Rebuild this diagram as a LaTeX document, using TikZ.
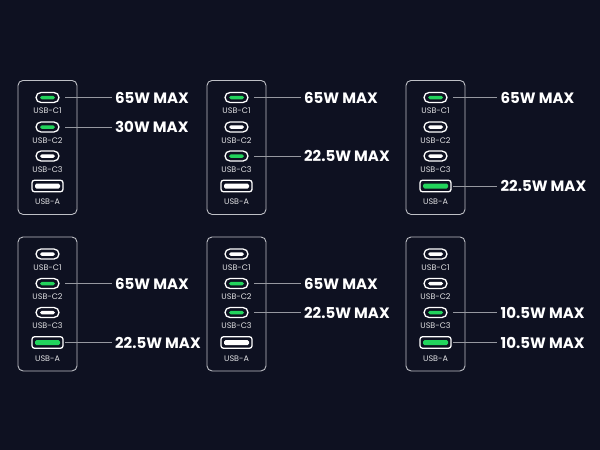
\documentclass[tikz,border=0pt]{standalone}
\usepackage{fontspec}
\setmainfont{Poppins}
\usetikzlibrary{positioning,calc}
\definecolor{night}{RGB}{14,17,33}
\definecolor{usbgreen}{RGB}{34,212,92}
\definecolor{framegray}{RGB}{190,192,198}
\definecolor{leadgray}{RGB}{150,152,160}
\tikzset{
  charger/.style={draw=framegray,line width=0.9pt,rounded corners=5pt,
    minimum width=59pt,minimum height=134pt,inner sep=0pt},
  cport/.style={draw=white,line width=1.3pt,rounded corners=5pt,
    minimum width=23pt,minimum height=10pt,inner sep=0pt},
  cslot/.style={rounded corners=1.75pt,minimum width=15pt,minimum height=3.5pt,inner sep=0pt},
  aport/.style={draw=white,line width=1.3pt,rounded corners=2.5pt,
    minimum width=31pt,minimum height=11.5pt,inner sep=0pt},
  aslot/.style={rounded corners=1.5pt,minimum width=25pt,minimum height=5pt,inner sep=0pt},
  lit/.style={fill=usbgreen},
  unlit/.style={fill=white},
  portname/.style={font=\fontsize{8}{9}\selectfont,text=white!88!night,inner sep=0pt},
  watt/.style={font=\fontsize{15}{18}\selectfont\bfseries,text=white,inner sep=0pt,anchor=west},
  lead/.style={leadgray,line width=0.9pt}
}
\begin{document}
\begin{tikzpicture}[x=1pt,y=-1pt]
  \fill[night] (0,0) rectangle (600,450);
  \useasboundingbox (0,0) rectangle (600,450);
  % six chargers, which ports are lit
  \foreach \cx/\cy/\n/\pa/\pb/\pc/\pd in {
      47.5/80/a/lit/lit/unlit/unlit,
      236.5/80/b/lit/unlit/lit/unlit,
      435.5/80/c/lit/unlit/unlit/lit,
      47.5/236.5/d/unlit/lit/unlit/lit,
      236.5/236.5/e/unlit/lit/lit/unlit,
      435.5/236.5/f/unlit/unlit/lit/lit} {
    \node[charger,anchor=north] (\n box) at (\cx,\cy) {};
    \node[cport] (\n1) at (\cx,\cy+17.5) {};
    \node[cslot,\pa] (\n1s) at (\n1) {};
    \node[portname,below=4.5pt of \n1] (\n1l) {USB-C1};
    \node[cport] (\n2) at (\cx,\cy+47) {};
    \node[cslot,\pb] (\n2s) at (\n2) {};
    \node[portname,below=4.5pt of \n2] (\n2l) {USB-C2};
    \node[cport] (\n3) at (\cx,\cy+76) {};
    \node[cslot,\pc] (\n3s) at (\n3) {};
    \node[portname,below=4.5pt of \n3] (\n3l) {USB-C3};
    \node[aport] (\n4) at (\cx,\cy+106) {};
    \node[aslot,\pd] (\n4s) at (\n4) {};
    \node[portname,below=6.5pt of \n4] (\n4l) {USB-A};
  }
  % power labels
  \node[watt] (a1w) at ($(a1 -| abox.east)+(37.5,0)$) {65W MAX};
  \node[watt] (a2w) at ($(a2 -| abox.east)+(37.5,0)$) {30W MAX};
  \node[watt] (b1w) at ($(b1 -| bbox.east)+(37.5,0)$) {65W MAX};
  \node[watt] (b3w) at ($(b3 -| bbox.east)+(37.5,0)$) {22.5W MAX};
  \node[watt] (c1w) at ($(c1 -| cbox.east)+(35,0)$) {65W MAX};
  \node[watt] (c4w) at ($(c4 -| cbox.east)+(35,0)$) {22.5W MAX};
  \node[watt] (d2w) at ($(d2 -| dbox.east)+(37.5,0)$) {65W MAX};
  \node[watt] (d4w) at ($(d4 -| dbox.east)+(37.5,0)$) {22.5W MAX};
  \node[watt] (e2w) at ($(e2 -| ebox.east)+(37.5,0)$) {65W MAX};
  \node[watt] (e3w) at ($(e3 -| ebox.east)+(37.5,0)$) {22.5W MAX};
  \node[watt] (f3w) at ($(f3 -| fbox.east)+(35,0)$) {10.5W MAX};
  \node[watt] (f4w) at ($(f4 -| fbox.east)+(35,0)$) {10.5W MAX};
  \foreach \p in {a1,a2,b1,b3,c1,c4,d2,d4,e2,e3,f3,f4} {
    \draw[lead] ($(\p)+(17.5,0)$) -- ($(\p w.west)+(-3,0)$);
  }
\end{tikzpicture}
\end{document}
